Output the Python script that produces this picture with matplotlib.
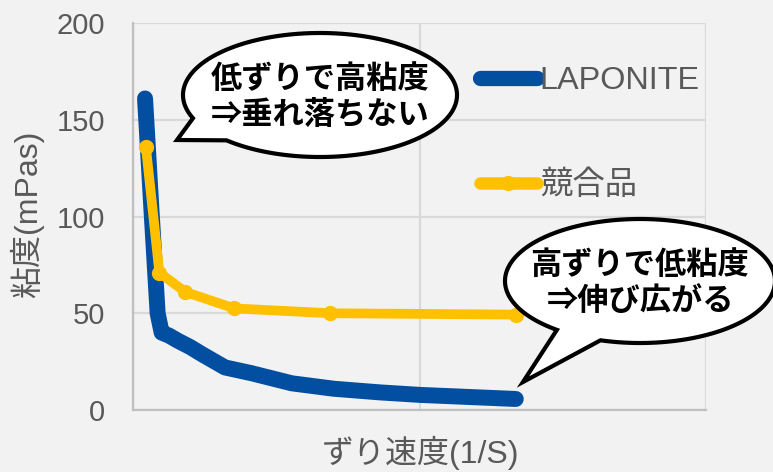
import numpy as np
import matplotlib
matplotlib.use("Agg")
import matplotlib.pyplot as plt
from matplotlib.lines import Line2D
from matplotlib.patches import Polygon

# ---- data ----
lap_x = [42, 65, 86, 100, 125, 158, 200, 240, 321, 414, 554, 700, 862, 1002, 1336]
lap_y = [161, 102, 50, 40, 38.5, 35.7, 32.5, 28.9, 22, 19, 13.8, 11, 9.1, 7.8, 5.7]
comp_x = [45, 92, 183, 354, 688, 1336]
comp_y = [136, 71, 61, 52.5, 50, 49.3]
series_names = ["LAPONITE", "競合品"]
yticks = [0, 50, 100, 150, 200]
xlabel = "ずり速度(1/S)"
ylabel = "粘度(mPas)"
note1 = "低ずりで高粘度\n⇒垂れ落ちない"
note2 = "高ずりで低粘度\n⇒伸び広がる"

BLUE = "#024EA0"
GOLD = "#FFC000"
GRAY = "#595959"
BG = "#F2F2F2"
LATIN_CJK = ["Liberation Sans", "Noto Sans CJK JP", "DejaVu Sans"]
CJK = ["Noto Sans CJK JP", "DejaVu Sans"]

W, H = 773, 472
fig = plt.figure(figsize=(W / 100, H / 100), dpi=100, facecolor=BG)
ax = fig.add_axes([133 / W, 1 - 410 / H, (706 - 133) / W, (410 - 23) / H])
ax.set_facecolor(BG)
ax.set_xlim(0, 2000)
ax.set_ylim(0, 200)
ax.set_xticks([0, 1000, 2000])
ax.set_xticklabels([])
ax.set_yticks(yticks)
ax.set_yticklabels([str(v) for v in yticks], family=LATIN_CJK, fontsize=21, color=GRAY)
ax.tick_params(length=0, pad=20)
ax.grid(True, color="#D9D9D9", lw=1.6)
ax.set_axisbelow(True)
for s in ["top", "right"]:
    ax.spines[s].set_visible(False)
for s in ["left", "bottom"]:
    ax.spines[s].set_color("#BFBFBF")
    ax.spines[s].set_linewidth(1.6)

l1, = ax.plot(lap_x, lap_y, color=BLUE, lw=11.5, solid_capstyle="round",
              solid_joinstyle="round", zorder=3)
l2, = ax.plot(comp_x, comp_y, color=GOLD, lw=7, marker="o", ms=10,
              solid_capstyle="round", solid_joinstyle="round", zorder=4)

h1 = Line2D([], [], color=BLUE, lw=11, marker="o", ms=9, solid_capstyle="round")
h2 = Line2D([], [], color=GOLD, lw=9, marker="o", ms=10, solid_capstyle="round")
leg = ax.legend([h1, h2], series_names, loc="upper left",
                bbox_to_anchor=(480 / W, 1 - 66 / H), bbox_transform=fig.transFigure,
                frameon=False, handlelength=1.75, handletextpad=0.1,
                labelspacing=2.3, prop={"family": LATIN_CJK, "size": 23.3},
                borderaxespad=0, borderpad=0)
for t in leg.get_texts():
    t.set_color(GRAY)

fig.text(421 / W, 1 - 453 / H, xlabel, ha="center", va="center",
         family=LATIN_CJK, fontsize=23, color=GRAY)
fig.text(27 / W, 1 - 214 / H, ylabel, ha="center", va="center", rotation=90,
         family=LATIN_CJK, fontsize=23, color=GRAY)

# ---- overlay in pixel coordinates for callouts ----
ov = fig.add_axes([0, 0, 1, 1], zorder=10)
ov.set_xlim(0, W)
ov.set_ylim(H, 0)
ov.axis("off")
ov.patch.set_alpha(0)


def bubble(cx, cy, a, b, th1, th2, tip):
    t = np.radians(np.linspace(th2, th1 + 360, 300))
    pts = np.column_stack([cx + a * np.cos(t), cy + b * np.sin(t)])
    pts = np.vstack([pts, tip])
    ov.add_patch(Polygon(pts, closed=True, fc="white", ec="black", lw=3,
                         joinstyle="miter"))


bubble(320, 95, 137, 62, 133, 158, (177, 140))
bubble(640, 281, 135, 62, 107, 128, (523, 382))

ov.text(320, 97, note1, ha="center", va="center", family=CJK, fontsize=22.5,
        fontweight="bold", color="black", linespacing=1.15)
ov.text(640, 283, note2, ha="center", va="center", family=CJK, fontsize=22.5,
        fontweight="bold", color="black", linespacing=1.15)

fig.savefig("out.png", dpi=100, facecolor=BG)
